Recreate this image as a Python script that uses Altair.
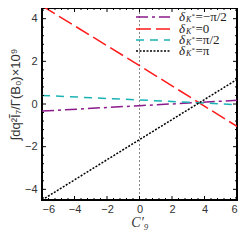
import altair as alt
import pandas as pd

# ---- data ----
x_vals = [-6, 0, 6]
purple_vals = [-0.33, -0.08, 0.17]   # delta = -pi/2
red_vals = [4.6, 1.8, -1.05]         # delta = 0
cyan_vals = [0.40, 0.19, -0.03]      # delta = pi/2
black_vals = [-4.5, -1.67, 1.15]     # delta = pi

series_names = ["m", "z", "p", "pi"]
legend_values = ["=−π/2", "=0", "=π/2", "=π"]
colors = ["#8b1a8b", "#ff1a1a", "#1ab3b3", "#000000"]
dashes = [[12, 4, 3, 4], [15, 5], [8, 6], [2, 1.5]]

x_major = [-6, -4, -2, 0, 2, 4, 6]
y_major = [-4, -2, 0, 2, 4]
minor_steps = [0.4, 0.8, 1.2, 1.6]

W, H = 195, 192
FONT = "Liberation Sans"
SERIF = "Liberation Serif"

rows = []
for name, vals in zip(series_names, [purple_vals, red_vals, cyan_vals, black_vals]):
    for xv, yv in zip(x_vals, vals):
        rows.append({"s": name, "x": xv, "y": yv})
df = pd.DataFrame(rows)

xscale = alt.Scale(domain=[-6, 6], nice=False, zero=False)
yscale = alt.Scale(domain=[-4.5, 4.5], nice=False, zero=False)

x_axis = alt.Axis(values=x_major, ticks=False, domain=False, grid=False,
                  labelFont=FONT, labelFontSize=11, labelColor="#333",
                  labelPadding=3, title="C′₉", titleFont=SERIF,
                  titleFontStyle="italic", titleFontWeight="normal",
                  titleFontSize=14, titleColor="#333", titleBaseline="top", titleY=15)
y_axis = alt.Axis(values=y_major, ticks=False, domain=False, grid=False,
                  labelFont=FONT, labelFontSize=11, labelColor="#333",
                  labelPadding=5, title="∫dq²Ĩ₇/Γ(B₀)×10⁹", titleFont=FONT,
                  titleFontWeight="normal", titleFontSize=13, titleColor="#333",
                  titleX=-27, titleY=86, titleBaseline="middle")

X = lambda f: alt.X(f, scale=xscale, axis=x_axis)
Y = lambda f: alt.Y(f, scale=yscale, axis=y_axis)

lines = alt.Chart(df).mark_line(clip=True, strokeWidth=1.5).encode(
    x=X("x:Q"),
    y=Y("y:Q"),
    color=alt.Color("s:N", scale=alt.Scale(domain=series_names, range=colors), legend=None),
    strokeDash=alt.StrokeDash("s:N", scale=alt.Scale(domain=series_names, range=dashes), legend=None),
)

vline = alt.Chart(pd.DataFrame({"x": [0]})).mark_rule(
    color="#888", strokeDash=[2, 2], strokeWidth=1).encode(x=X("x:Q"))

x_minor = [round(m + s, 1) for m in x_major[:-1] for s in minor_steps]
y_minor = [v for v in [round(m + s, 1) for m in [-6] + y_major for s in minor_steps] if -4.5 < v < 4.5]

xt_major = pd.DataFrame({"v": x_major})
xt_minor = pd.DataFrame({"v": x_minor})
yt_major = pd.DataFrame({"v": y_major})
yt_minor = pd.DataFrame({"v": y_minor})

def xticks(d, ln):
    b = alt.Chart(d).mark_rule(color="black", strokeWidth=1)
    return [b.encode(x=X("v:Q"), y=alt.value(H), y2=alt.value(H - ln)),
            b.encode(x=X("v:Q"), y=alt.value(0), y2=alt.value(ln))]

def yticks(d, ln):
    b = alt.Chart(d).mark_rule(color="black", strokeWidth=1)
    return [b.encode(y=Y("v:Q"), x=alt.value(0), x2=alt.value(ln)),
            b.encode(y=Y("v:Q"), x=alt.value(W), x2=alt.value(W - ln))]

tick_layers = xticks(xt_major, 4) + xticks(xt_minor, 2) + yticks(yt_major, 4) + yticks(yt_minor, 2)

# ---- manual legend (for subscripted labels) ----
legend_layers = []
row_y = [9, 21, 32, 43]
one = pd.DataFrame({"a": [0]})
LX = 137
for i in range(4):
    yy = row_y[i]
    legend_layers.append(alt.Chart(one).mark_rule(color=colors[i], strokeDash=dashes[i], strokeWidth=1.5).encode(
        x=alt.value(94), x2=alt.value(128), y=alt.value(yy)))
    legend_layers.append(alt.Chart(one).mark_text(text="δ", font=SERIF, fontStyle="italic", fontSize=13,
                                                  align="left", baseline="middle", color="#222").encode(
        x=alt.value(LX), y=alt.value(yy)))
    legend_layers.append(alt.Chart(one).mark_text(text="K", font=SERIF, fontStyle="italic", fontSize=8,
                                                  align="left", baseline="middle", color="#222").encode(
        x=alt.value(LX + 7), y=alt.value(yy + 3)))
    legend_layers.append(alt.Chart(one).mark_text(text="*", font=SERIF, fontSize=7,
                                                  align="left", baseline="middle", color="#222").encode(
        x=alt.value(LX + 12.5), y=alt.value(yy - 1)))
    legend_layers.append(alt.Chart(one).mark_text(text=legend_values[i], font=SERIF, fontSize=13,
                                                  align="left", baseline="middle", color="#222").encode(
        x=alt.value(LX + 16.5), y=alt.value(yy)))

chart = alt.layer(vline, lines, *tick_layers, *legend_layers).properties(
    width=W, height=H,
    autosize=alt.AutoSizeParams(type="none"),
    padding={"left": 34, "top": 0, "right": 4, "bottom": 30},
).configure_view(stroke="black", strokeWidth=2)

chart.save("out.html", embed_options={"renderer": "svg", "actions": False})
